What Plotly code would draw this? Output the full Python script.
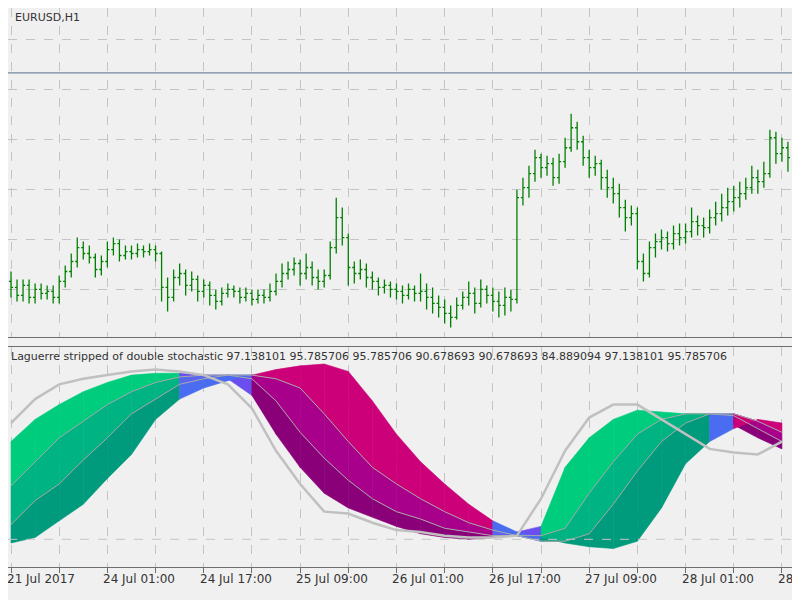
import plotly.graph_objects as go
from plotly.subplots import make_subplots

# hourly EURUSD bars (index 0 = 21 Jul 2017 14:00)
first_open = 1.1608
closes = [1.1605, 1.1601, 1.1606, 1.1600, 1.1604, 1.1602, 1.1603, 1.1600, 1.1608, 1.1613,
          1.1618, 1.1625, 1.1622, 1.1620, 1.1614, 1.1618, 1.1624, 1.1627, 1.1621, 1.1623,
          1.1622, 1.1624, 1.1623, 1.1624, 1.1622, 1.1605, 1.1600, 1.1610, 1.1612, 1.1606,
          1.1609, 1.1603, 1.1606, 1.1601, 1.1598, 1.1602, 1.1604, 1.1603, 1.1600, 1.1602,
          1.1599, 1.1601, 1.1600, 1.1603, 1.1608, 1.1612, 1.1614, 1.1617, 1.1612, 1.1615,
          1.1610, 1.1608, 1.1611, 1.1625, 1.1640, 1.1630, 1.1615, 1.1612, 1.1614, 1.1610,
          1.1608, 1.1605, 1.1606, 1.1604, 1.1603, 1.1601, 1.1604, 1.1602, 1.1603, 1.1600,
          1.1597, 1.1595, 1.1592, 1.1590, 1.1596, 1.1600, 1.1602, 1.1597, 1.1604, 1.1601,
          1.1598, 1.1596, 1.1600, 1.1599, 1.1650, 1.1655, 1.1662, 1.1670, 1.1665, 1.1667,
          1.1660, 1.1668, 1.1675, 1.1685, 1.1678, 1.1670, 1.1665, 1.1667, 1.1660, 1.1655,
          1.1652, 1.1645, 1.1640, 1.1642, 1.1618, 1.1612, 1.1625, 1.1628, 1.1630, 1.1627,
          1.1632, 1.1630, 1.1633, 1.1638, 1.1636, 1.1635, 1.1640, 1.1642, 1.1645, 1.1648,
          1.1650, 1.1652, 1.1655, 1.1660, 1.1658, 1.1662, 1.1680, 1.1672, 1.1675, 1.1670]
highs = [1.1613, 1.1609, 1.1609, 1.1609, 1.1607, 1.1607, 1.1606, 1.1606, 1.1611, 1.1616,
         1.1622, 1.1630, 1.1628, 1.1626, 1.1622, 1.1621, 1.1628, 1.1630, 1.1629, 1.1626,
         1.1626, 1.1627, 1.1626, 1.1627, 1.1626, 1.1623, 1.1610, 1.1614, 1.1617, 1.1614,
         1.1613, 1.1611, 1.1609, 1.1608, 1.1604, 1.1605, 1.1607, 1.1606, 1.1605, 1.1605,
         1.1604, 1.1604, 1.1604, 1.1607, 1.1612, 1.1617, 1.1618, 1.1620, 1.1619, 1.1622,
         1.1618, 1.1614, 1.1614, 1.1628, 1.1650, 1.1645, 1.1632, 1.1618, 1.1619, 1.1617,
         1.1613, 1.1610, 1.1609, 1.1608, 1.1607, 1.1606, 1.1607, 1.1606, 1.1612, 1.1607,
         1.1605, 1.1601, 1.1599, 1.1596, 1.1600, 1.1603, 1.1608, 1.1605, 1.1609, 1.1606,
         1.1605, 1.1603, 1.1605, 1.1604, 1.1654, 1.1660, 1.1666, 1.1674, 1.1672, 1.1671,
         1.1670, 1.1672, 1.1680, 1.1692, 1.1688, 1.1681, 1.1674, 1.1671, 1.1669, 1.1664,
         1.1660, 1.1657, 1.1649, 1.1646, 1.1645, 1.1622, 1.1628, 1.1632, 1.1634, 1.1633,
         1.1636, 1.1637, 1.1637, 1.1645, 1.1641, 1.1640, 1.1644, 1.1648, 1.1652, 1.1655,
         1.1656, 1.1658, 1.1660, 1.1666, 1.1664, 1.1668, 1.1684, 1.1683, 1.1680, 1.1678]
lows = [1.1600, 1.1598, 1.1598, 1.1597, 1.1597, 1.1599, 1.1599, 1.1597, 1.1597, 1.1605,
        1.1610, 1.1615, 1.1619, 1.1617, 1.1610, 1.1611, 1.1615, 1.1621, 1.1618, 1.1619,
        1.1619, 1.1620, 1.1620, 1.1621, 1.1618, 1.1598, 1.1593, 1.1598, 1.1606, 1.1601,
        1.1603, 1.1598, 1.1600, 1.1596, 1.1594, 1.1596, 1.1600, 1.1600, 1.1597, 1.1598,
        1.1596, 1.1597, 1.1597, 1.1598, 1.1601, 1.1605, 1.1609, 1.1611, 1.1606, 1.1609,
        1.1606, 1.1604, 1.1605, 1.1609, 1.1622, 1.1626, 1.1606, 1.1607, 1.1609, 1.1605,
        1.1604, 1.1601, 1.1602, 1.1600, 1.1599, 1.1597, 1.1599, 1.1598, 1.1598, 1.1594,
        1.1592, 1.1590, 1.1587, 1.1585, 1.1589, 1.1594, 1.1596, 1.1592, 1.1595, 1.1597,
        1.1593, 1.1590, 1.1591, 1.1593, 1.1597, 1.1646, 1.1650, 1.1658, 1.1660, 1.1661,
        1.1656, 1.1657, 1.1665, 1.1673, 1.1674, 1.1666, 1.1660, 1.1661, 1.1654, 1.1650,
        1.1647, 1.1640, 1.1633, 1.1636, 1.1614, 1.1608, 1.1610, 1.1620, 1.1624, 1.1623,
        1.1624, 1.1626, 1.1627, 1.1630, 1.1631, 1.1630, 1.1632, 1.1636, 1.1638, 1.1641,
        1.1643, 1.1645, 1.1649, 1.1652, 1.1652, 1.1655, 1.1660, 1.1667, 1.1668, 1.1663]
opens = [first_open] + closes[:-1]
hline_level = 1.17125

# indicator samples, every 4 bars
ind_x = list(range(0, 129, 4))
stoch = [68, 81, 89, 92, 94, 96, 97, 96, 94, 89, 76, 53, 35, 20, 19, 14, 10,
         9, 7, 6, 6, 7, 27, 53, 71, 78, 78, 70, 62, 54, 52, 51, 58]
lag_a = [58, 70, 78, 85, 90, 94, 95, 95, 94, 92, 83, 62, 44, 30, 22, 17, 12,
         8, 6, 5, 6, 9, 12, 44, 60, 70, 75, 74, 73, 72, 67, 60, 54]
lag_b = [34, 47, 60, 69, 78, 85, 90, 93, 94, 94, 92, 80, 63, 49, 37, 27, 20,
         16, 11, 9, 7, 7, 7, 11, 30, 47, 62, 70, 73, 73, 72, 65, 58]
lag_c = [13, 26, 35, 48, 60, 73, 81, 89, 92, 94, 94, 92, 87, 73, 58, 44, 35,
         27, 20, 14, 10, 7, 4, 4, 8, 24, 42, 58, 68, 73, 73, 69, 63]
lag_d = [3, 6, 15, 24, 38, 51, 70, 81, 87, 91, 94, 97, 99, 100, 96, 80, 62,
         47, 35, 24, 15, 9, 6, 3, 1, 0, 4, 22, 46, 58, 65, 70, 68]
ind_levels = [5]

tick_bars = [0, 16, 32, 48, 64, 80, 96, 112, 128]
tick_text = ["21 Jul 2017", "24 Jul 01:00", "24 Jul 17:00", "25 Jul 09:00", "26 Jul 01:00",
             "26 Jul 17:00", "27 Jul 09:00", "28 Jul 01:00", "28 Jul 17:00"]

BG = '#f0f0f0'
GRID = '#c4c4c4'
FRAME = '#6e6e6e'
colors = {
    'up': ['#00cc7e', '#00b382', '#009a7c'],
    'down': ['#8a0078', '#a8008a', '#cc0078'],
    'flat': ['#6a4ef0', '#5a66ee', '#4a6cf0'],
}

fig = make_subplots(rows=2, cols=1, shared_xaxes=False, vertical_spacing=0.018,
                    row_heights=[0.6, 0.4])

fig.add_trace(go.Ohlc(x=list(range(len(closes))), open=opens, high=highs, low=lows, close=closes,
                      increasing=dict(line=dict(color='#008000', width=1.3)),
                      decreasing=dict(line=dict(color='#008000', width=1.3)),
                      tickwidth=0.35, showlegend=False, hoverinfo='skip'), row=1, col=1)
fig.add_hline(y=hline_level, line=dict(color='#7788a0', width=1.3), row=1, col=1)

# coloured bands between the laguerre lines
lines = [lag_a, lag_b, lag_c, lag_d]
for j in range(len(ind_x) - 1):
    mid0 = sum(l[j] for l in lines) / 4
    mid1 = sum(l[j + 1] for l in lines) / 4
    slope = mid1 - mid0
    state = 'up' if slope > 2.5 else ('down' if slope < -2.5 else 'flat')
    for k in range(3):
        top, bot = lines[k], lines[k + 1]
        col = colors[state][k]
        fig.add_trace(go.Scatter(
            x=[ind_x[j], ind_x[j + 1], ind_x[j + 1], ind_x[j], ind_x[j]],
            y=[top[j], top[j + 1], bot[j + 1], bot[j], top[j]],
            fill='toself', fillcolor=col, mode='lines', line=dict(color=col, width=0.6),
            showlegend=False, hoverinfo='skip'), row=2, col=1)

for l in (lag_b, lag_c):
    fig.add_trace(go.Scatter(x=ind_x, y=l, mode='lines', line=dict(color='#a8a8a8', width=1),
                             showlegend=False, hoverinfo='skip'), row=2, col=1)
fig.add_trace(go.Scatter(x=ind_x, y=stoch, mode='lines', line=dict(color='#c0c0c0', width=2.5),
                         showlegend=False, hoverinfo='skip'), row=2, col=1)
for lv in ind_levels:
    fig.add_hline(y=lv, line=dict(color=GRID, width=1, dash='dash'), row=2, col=1)

axis_common = dict(showgrid=True, gridcolor=GRID, griddash='dash', zeroline=False,
                   showline=True, linecolor=FRAME, mirror=True, linewidth=1.2)
fig.update_xaxes(range=[-0.5, 131], dtick=8, tick0=0, showticklabels=False,
                 rangeslider_visible=False, **axis_common)
fig.update_xaxes(ticks='outside', ticklen=5, tickcolor=FRAME, row=2, col=1)
fig.update_yaxes(showticklabels=False, **axis_common)
fig.update_yaxes(range=[1.1580, 1.1745], dtick=0.0025, tick0=1.1604, row=1, col=1)
fig.update_yaxes(range=[-10, 109], showgrid=False, row=2, col=1)

annots = [dict(text="EURUSD,H1", x=0.006, y=0.998, xref='paper', yref='paper',
               xanchor='left', yanchor='top', showarrow=False),
          dict(text="Laguerre stripped of double stochastic 97.138101 95.785706 95.785706 "
                    "90.678693 90.678693 84.889094 97.138101 95.785706",
               x=0.001, y=0.392, xref='paper', yref='paper',
               xanchor='left', yanchor='top', showarrow=False)]
for b, t in zip(tick_bars, tick_text):
    annots.append(dict(text=t, x=b, y=-0.006, xref='x2', yref='paper', xshift=-6,
                       xanchor='left', yanchor='top', showarrow=False,
                       font=dict(size=12)))
# page body adds ~8px offset, so the figure is a bit smaller than the window
fig.update_layout(width=792, height=592,
                  margin=dict(l=0, r=0, t=0, b=33, autoexpand=False),
                  paper_bgcolor=BG, plot_bgcolor=BG,
                  font=dict(family="DejaVu Sans", size=11, color='#333333'),
                  annotations=annots)

fig.write_html("out.html")
